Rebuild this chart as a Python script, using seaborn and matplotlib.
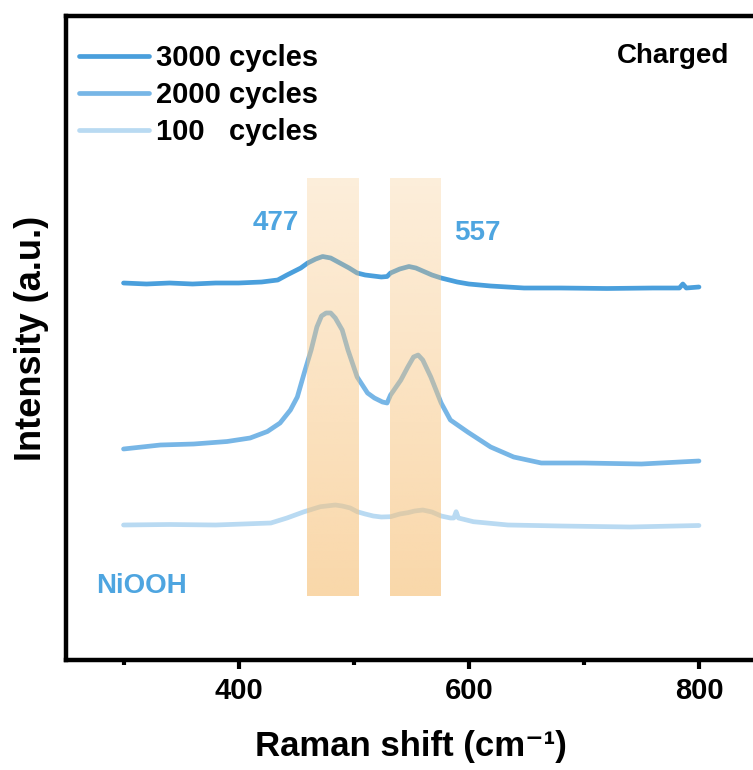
import numpy as np
import pandas as pd
import matplotlib
matplotlib.use("Agg")
import matplotlib.pyplot as plt
import seaborn as sns
from matplotlib.lines import Line2D

# ---------------- data ----------------
x_3000 = [300, 320, 340, 360, 380, 400, 420, 434, 442, 454, 460, 467, 473, 480, 488,
          496, 503, 510, 517, 524, 529, 532, 540, 548, 554, 561, 568, 576, 583, 590,
          600, 619, 648, 680, 720, 760, 783, 786, 789, 800]
y_3000 = [377, 376, 377, 376, 377, 377, 378, 380, 385, 392, 397, 401, 403.5, 402, 397,
          392, 387, 385, 384, 383, 383.5, 387, 391, 393.5, 392, 388.5, 385, 382, 380, 378,
          376, 374, 372, 372, 371.5, 372, 372, 376, 372, 373]

x_2000 = [300, 332, 361, 390, 410, 425, 436, 445, 451, 457, 463, 468, 472, 476, 480,
          484, 490, 495, 503, 512, 518, 525, 529, 532, 541, 547, 552, 556, 560, 567,
          576, 584, 599, 619, 639, 663, 700, 750, 800]
y_2000 = [211, 215, 216, 218.5, 222, 228.5, 237, 250, 263, 287, 310, 333, 344, 347, 347,
          342, 330, 310, 283, 267, 262, 258, 257, 265, 280, 293, 303, 305, 300, 283,
          257, 240, 228, 213, 203, 197, 197, 196, 199]

x_100 = [300, 340, 380, 428, 442, 457, 471, 484, 490, 497, 503, 510, 517, 524, 532,
         540, 547, 553, 560, 568, 576, 584, 587, 589, 591, 604, 634, 680, 740, 800]
y_100 = [135, 135.5, 135, 137, 142, 148.3, 153.3, 155, 154, 152, 148.3, 146, 144, 143, 143.3,
         146, 147.3, 149, 150, 148, 144, 142, 142, 148.3, 142, 138.3, 135, 134, 133, 134.5]

series_names = ["3000 cycles", "2000 cycles", "100   cycles"]
series_colors = ["#4a9fdc", "#77b6e6", "#b9daf2"]

band_x = [(459, 503.5), (531.5, 575.5)]   # highlighted peak regions (cm-1)
band_y = (64, 482)
peak_labels = ["477", "557"]
xticks_major = [400, 600, 800]
xticks_minor = [300, 500, 700]

# ---------------- build long table ----------------
frames = []
for name, xs, ys in zip(series_names, [x_3000, x_2000, x_100], [y_3000, y_2000, y_100]):
    frames.append(pd.DataFrame({"shift": xs, "intensity": ys, "series": name}))
df = pd.concat(frames, ignore_index=True)

# ---------------- style ----------------
sns.set_style("ticks")
plt.rcParams["font.family"] = ["Liberation Sans", "DejaVu Sans"]
plt.rcParams["font.weight"] = "bold"
plt.rcParams["text.color"] = "black"
plt.rcParams["axes.labelcolor"] = "black"
plt.rcParams["xtick.color"] = "black"
plt.rcParams["xtick.labelcolor"] = "black"

fig = plt.figure(figsize=(7.53, 7.70), dpi=100)
ax = fig.add_axes([66 / 753, 110 / 770, 690.5 / 753, 644 / 770])

palette = dict(zip(series_names, series_colors))
sns.lineplot(data=df, x="shift", y="intensity", hue="series", hue_order=series_names,
             palette=palette, linewidth=3.4, ax=ax, legend=False, zorder=2)

# gradient bands drawn over the curves
base = np.array([247, 195, 125]) / 255.0
n = 256
alpha = np.linspace(0.66, 0.28, n)  # bottom -> top (origin lower)
grad = np.zeros((n, 1, 4))
grad[:, 0, :3] = base
grad[:, 0, 3] = alpha
for (x0, x1) in band_x:
    ax.imshow(grad, extent=[x0, x1, band_y[0], band_y[1]], origin="lower",
              aspect="auto", interpolation="bilinear", zorder=3)

ax.set_xlim(250, 850)
ax.set_ylim(0, 644)

# legend
handles = [Line2D([0], [0], color=c, lw=3.4) for c in series_colors]
leg = ax.legend(handles, series_names, loc="upper left", bbox_to_anchor=(0.002, 0.974),
                frameon=False, prop={"size": 21, "weight": "bold"},
                handlelength=2.4, handletextpad=0.25, labelspacing=0.31,
                borderaxespad=0.0, borderpad=0.4)
for t in leg.get_texts():
    t.set_color("black")

# annotations
blue = "#4ea5e0"
ax.text(432.6, 437.5, peak_labels[0], color=blue, fontsize=20, fontweight="bold",
        ha="center", va="center", zorder=4)
ax.text(607.4, 426.5, peak_labels[1], color=blue, fontsize=20, fontweight="bold",
        ha="center", va="center", zorder=4)
ax.text(276, 74, "NiOOH", color=blue, fontsize=20, fontweight="bold",
        ha="left", va="center", zorder=4)
ax.text(826, 604, "Charged", color="black", fontsize=20, fontweight="bold",
        ha="right", va="center", zorder=4)

# axes styling
for sp in ax.spines.values():
    sp.set_linewidth(3.2)
    sp.set_color("black")
ax.set_xticks(xticks_major)
ax.set_xticks(xticks_minor, minor=True)
ax.tick_params(axis="x", which="major", direction="out", length=6.5, width=3,
               labelsize=21, pad=6, color="black", labelcolor="black")
ax.tick_params(axis="x", which="minor", direction="out", length=3.5, width=3, color="black")
for lab in ax.get_xticklabels():
    lab.set_fontweight("bold")
ax.set_yticks([])

ax.set_xlabel("Raman shift (cm\u207b\u00b9)", fontsize=25, fontweight="bold",
              labelpad=18, color="black")
ax.set_ylabel("Intensity (a.u.)", fontsize=26, fontweight="bold", labelpad=12, color="black")

fig.savefig("out.png", dpi=100)
